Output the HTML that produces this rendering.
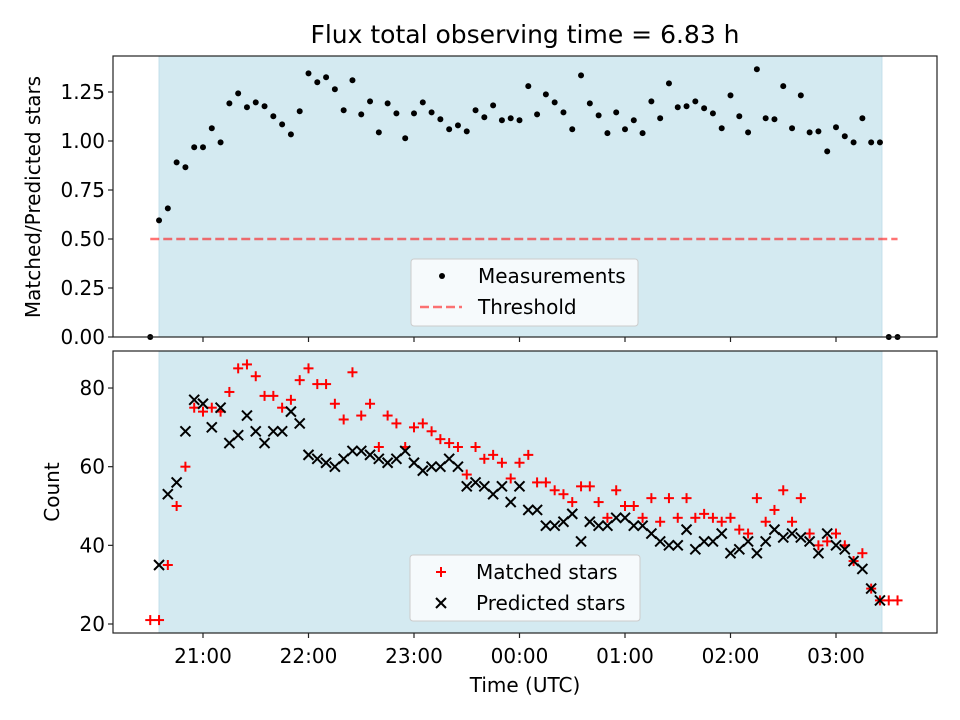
<!DOCTYPE html>
<html><head><meta charset="utf-8"><style>
body{margin:0;background:#fff}
svg{display:block;font-family:"DejaVu Sans","Liberation Sans",sans-serif}
</style></head><body>
<svg id="c" width="960" height="720" viewBox="0 0 960 720"></svg>
<script>
const times=["20:30","20:35","20:40","20:45","20:50","20:55","21:00","21:05","21:10","21:15","21:20","21:25","21:30","21:35","21:40","21:45","21:50","21:55","22:00","22:05","22:10","22:15","22:20","22:25","22:30","22:35","22:40","22:45","22:50","22:55","23:00","23:05","23:10","23:15","23:20","23:25","23:30","23:35","23:40","23:45","23:50","23:55","00:00","00:05","00:10","00:15","00:20","00:25","00:30","00:35","00:40","00:45","00:50","00:55","01:00","01:05","01:10","01:15","01:20","01:25","01:30","01:35","01:40","01:45","01:50","01:55","02:00","02:05","02:10","02:15","02:20","02:25","02:30","02:35","02:40","02:45","02:50","02:55","03:00","03:05","03:10","03:15","03:20","03:25","03:30","03:35"];
const ratio=[0,0.595,0.656,0.891,0.866,0.968,0.968,1.065,0.993,1.192,1.243,1.172,1.197,1.177,1.126,1.085,1.034,1.152,1.345,1.300,1.325,1.264,1.157,1.310,1.136,1.202,1.044,1.192,1.141,1.014,1.141,1.197,1.146,1.111,1.060,1.080,1.049,1.157,1.121,1.182,1.106,1.116,1.106,1.280,1.136,1.238,1.197,1.146,1.060,1.335,1.192,1.131,1.040,1.146,1.060,1.106,1.040,1.202,1.116,1.294,1.172,1.177,1.202,1.167,1.141,1.065,1.233,1.126,1.044,1.366,1.116,1.111,1.280,1.065,1.233,1.044,1.049,0.947,1.070,1.024,0.993,1.116,0.993,0.993,0,0];
const matched=[21,21,35,50,60,75,74,75,74,79,85,86,83,78,78,75,77,82,85,81,81,76,72,84,73,76,65,73,71,65,70,71,69,67,66,65,58,65,62,63,61,57,61,63,56,56,54,53,51,55,55,51,47,54,50,50,47,52,46,52,47,52,47,48,47,46,47,44,43,52,46,49,54,46,52,43,40,41,43,40,36,38,29,26,26,26];
const predicted=[null,35,53,56,69,77,76,70,75,66,68,73,69,66,69,69,74,71,63,62,61,60,62,64,64,63,62,61,62,64,61,59,60,60,62,60,55,56,55,53,55,51,55,49,49,45,45,46,48,41,46,45,45,47,47,45,45,43,41,40,40,44,39,41,41,43,38,39,41,38,41,44,42,43,42,41,38,43,40,39,36,34,29,26,null,null];
const topTicks=[0,0.25,0.5,0.75,1.0,1.25];
const botTicks=[20,40,60,80];
const xTicks=["21:00","22:00","23:00","00:00","01:00","02:00","03:00"];
const threshold=0.5, shadeStart="20:35", shadeEnd="03:25", thrStart="20:30", thrEnd="03:35";

const NS="http://www.w3.org/2000/svg", svg=document.getElementById('c');
function el(t,a,p){const e=document.createElementNS(NS,t);for(const k in a)e.setAttribute(k,a[k]);(p||svg).appendChild(e);return e;}
function mins(s){let [h,m]=s.split(':').map(Number);if(h<12)h+=24;return (h-20)*60+m;}
const X=s=>97.5+mins(s)/60*105.5;
const L=113,R=937,T1=56,B1=337,T2=351,B2=633;
const Y1=v=>337-v*196;
const Y2=v=>624-(v-20)*3.933;
const FS='20', TFS='25';

let t=el('text',{x:525,y:43,'text-anchor':'middle','font-size':TFS,fill:'#000'});t.textContent='Flux total observing time = 6.83 h';


function panel(T,B,name){
  const g=el('g',{});
  const sh=el('rect',{x:X(shadeStart),y:T,width:X(shadeEnd)-X(shadeStart)+2,height:B-T,fill:'#d4eaf1',stroke:'#c3e0ea','stroke-width':1},g);
  
  return g;
}
function frame(T,B,g){
  const f=el('rect',{x:L,y:T,width:R-L,height:B-T,fill:'none',stroke:'#222','stroke-width':1.2},g);
  
  xTicks.forEach(s=>{el('line',{x1:X(s),x2:X(s),y1:B,y2:B+5,stroke:'#222','stroke-width':1.2},g);});
}
const g1=panel(T1,B1,'ratio-panel');
const thr=el('line',{x1:X(thrStart),x2:X(thrEnd),y1:Y1(threshold),y2:Y1(threshold),stroke:'#ff0000','stroke-opacity':0.55,'stroke-width':2.5,'stroke-dasharray':'9,4'},g1);

ratio.forEach((v,i)=>{const c=el('circle',{cx:X(times[i]),cy:Y1(v),r:3,fill:'#000'},g1);
});
frame(T1,B1,g1);
topTicks.forEach(v=>{el('line',{x1:L-5,x2:L,y1:Y1(v),y2:Y1(v),stroke:'#222','stroke-width':1.2},g1);
const tx=el('text',{x:L-8,y:Y1(v)+7,'text-anchor':'end','font-size':FS},g1);tx.textContent=v.toFixed(2);
});
let yl=el('text',{x:40,y:197,'text-anchor':'middle','font-size':FS,transform:'rotate(-90 40 197)'},g1);yl.textContent='Matched/Predicted stars';

const lg1=el('g',{},g1);
el('rect',{x:411,y:259,width:227,height:67,rx:3,fill:'#f6fafc',stroke:'#cccccc'},lg1);
el('circle',{cx:442,cy:276,r:3,fill:'#000'},lg1);
el('line',{x1:420,x2:462,y1:307,y2:307,stroke:'#ff0000','stroke-opacity':0.55,'stroke-width':2.5,'stroke-dasharray':'9,4'},lg1);
let l1=el('text',{x:478,y:283,'font-size':FS},lg1);l1.textContent='Measurements';
let l2=el('text',{x:478,y:314,'font-size':FS},lg1);l2.textContent='Threshold';

const g2=panel(T2,B2,'count-panel');
function plus(x,y,p){const gg=el('g',{stroke:'#ff0000','stroke-width':2},p);el('line',{x1:x-5,x2:x+5,y1:y,y2:y},gg);el('line',{x1:x,x2:x,y1:y-5,y2:y+5},gg);return gg;}
function cross(x,y,p){const gg=el('g',{stroke:'#000','stroke-width':2},p);el('line',{x1:x-5,x2:x+5,y1:y-5,y2:y+5},gg);el('line',{x1:x-5,x2:x+5,y1:y+5,y2:y-5},gg);return gg;}
matched.forEach((v,i)=>{const m=plus(X(times[i]),Y2(v),g2);
});
predicted.forEach((v,i)=>{if(v==null)return;const m=cross(X(times[i]),Y2(v),g2);
});
frame(T2,B2,g2);
botTicks.forEach(v=>{el('line',{x1:L-5,x2:L,y1:Y2(v),y2:Y2(v),stroke:'#222','stroke-width':1.2},g2);
const tx=el('text',{x:L-8,y:Y2(v)+7,'text-anchor':'end','font-size':FS},g2);tx.textContent=v;
});
xTicks.forEach(s=>{const tx=el('text',{x:X(s),y:663,'text-anchor':'middle','font-size':FS},g2);tx.textContent=s;
});
let yl2=el('text',{x:59,y:492,'text-anchor':'middle','font-size':FS,transform:'rotate(-90 59 492)'},g2);yl2.textContent='Count';

let xl=el('text',{x:525,y:692,'text-anchor':'middle','font-size':FS},g2);xl.textContent='Time (UTC)';

const lg2=el('g',{},g2);
el('rect',{x:410,y:555,width:230,height:66,rx:3,fill:'#f6fafc',stroke:'#cccccc'},lg2);
plus(441,572,lg2);cross(441,603,lg2);
let l3=el('text',{x:476,y:579,'font-size':FS},lg2);l3.textContent='Matched stars';
let l4=el('text',{x:476,y:610,'font-size':FS},lg2);l4.textContent='Predicted stars';
</script>
</body></html>
